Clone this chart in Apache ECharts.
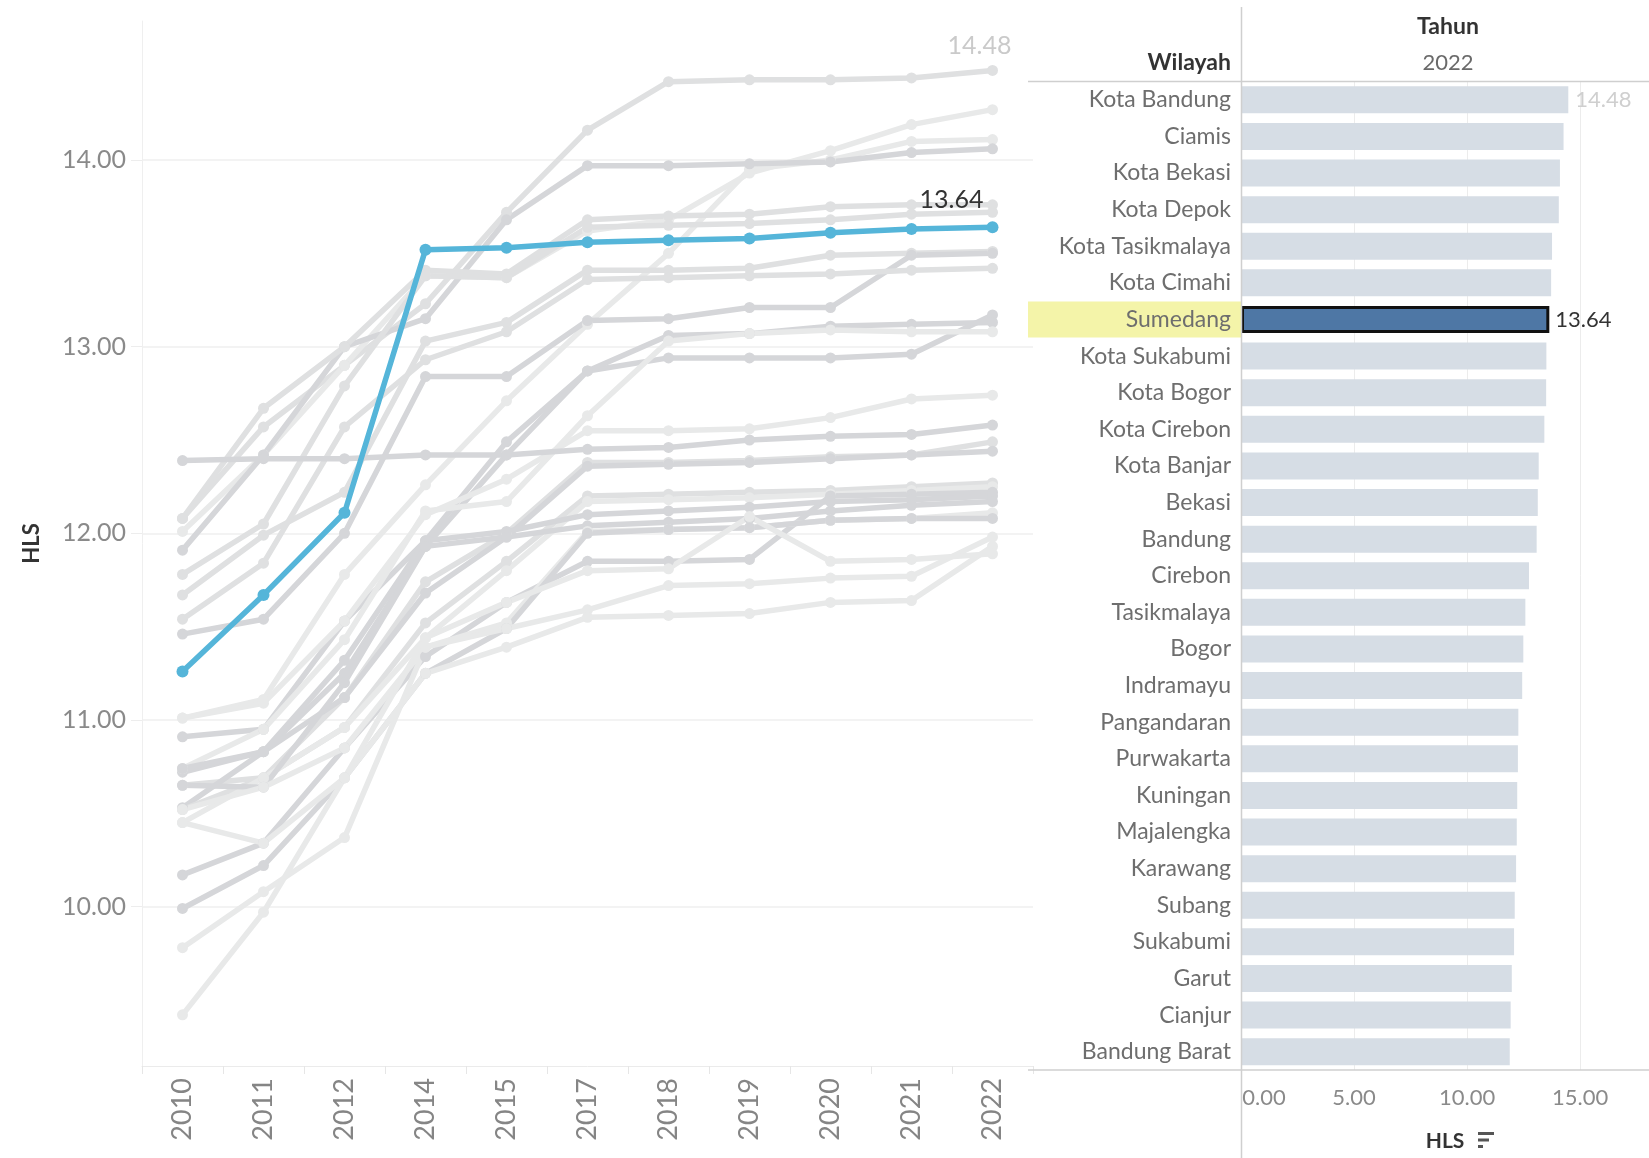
<!DOCTYPE html>
<html>
<head>
<meta charset="utf-8">
<script src="https://cdn.jsdelivr.net/npm/echarts@6/dist/echarts.min.js"></script>
<style>
  html, body { margin: 0; padding: 0; background: #fff; }
  #chart { width: 1649px; height: 1158px; }
</style>
</head>
<body>
<div id="chart"></div>
<script>
  // tahun (sumbu x grafik garis)
  const years = ['2010', '2011', '2012', '2014', '2015', '2017', '2018', '2019', '2020', '2021', '2022']

  // HLS per wilayah, urut sesuai tahun di atas
  const kotaBandung     = [12.08, 12.57, 12.90, 13.23, 13.72, 14.16, 14.42, 14.43, 14.43, 14.44, 14.48]
  const ciamis          = [12.01, 12.42, 12.90, 13.38, 13.37, 13.62, 13.68, 13.93, 14.05, 14.19, 14.27]
  const kotaBekasi      = [11.01, 11.11, 11.78, 12.26, 12.71, 13.12, 13.50, 13.95, 14.00, 14.10, 14.11]
  const kotaDepok       = [11.91, 12.42, 13.00, 13.15, 13.68, 13.97, 13.97, 13.98, 13.99, 14.04, 14.06]
  const kotaTasikmalaya = [12.08, 12.67, 13.00, 13.41, 13.39, 13.68, 13.70, 13.71, 13.75, 13.76, 13.76]
  const kotaCimahi      = [11.78, 12.05, 12.79, 13.38, 13.37, 13.64, 13.65, 13.66, 13.68, 13.71, 13.72]
  const sumedang        = [11.26, 11.67, 12.11, 13.52, 13.53, 13.56, 13.57, 13.58, 13.61, 13.63, 13.64]
  const kotaSukabumi    = [11.67, 11.99, 12.22, 13.03, 13.13, 13.41, 13.41, 13.42, 13.49, 13.50, 13.51]
  const kotaBogor       = [11.46, 11.54, 12.00, 12.84, 12.84, 13.14, 13.15, 13.21, 13.21, 13.49, 13.50]
  const kotaCirebon     = [11.54, 11.84, 12.57, 12.93, 13.08, 13.36, 13.37, 13.38, 13.39, 13.41, 13.42]
  const kotaBanjar      = [10.91, 10.95, 11.53, 11.96, 12.49, 12.87, 12.94, 12.94, 12.94, 12.96, 13.17]
  const bekasi          = [10.72, 10.83, 11.25, 11.93, 12.42, 12.87, 13.06, 13.07, 13.11, 13.12, 13.13]
  const bandung         = [10.74, 10.95, 11.43, 12.12, 12.17, 12.63, 13.03, 13.07, 13.09, 13.08, 13.08]
  const cirebon         = [11.01, 11.09, 11.53, 12.10, 12.29, 12.55, 12.55, 12.56, 12.62, 12.72, 12.74]
  const tasikmalaya     = [12.39, 12.40, 12.40, 12.42, 12.42, 12.45, 12.46, 12.50, 12.52, 12.53, 12.58]
  const bogor           = [10.65, 10.69, 11.12, 11.74, 12.00, 12.38, 12.38, 12.39, 12.41, 12.42, 12.49]
  const indramayu       = [10.53, 10.83, 11.12, 11.68, 11.98, 12.36, 12.37, 12.38, 12.40, 12.42, 12.44]
  const pangandaran     = [10.52, 10.69, 10.96, 11.52, 11.85, 12.20, 12.21, 12.22, 12.23, 12.25, 12.27]
  const purwakarta      = [10.45, 10.69, 10.96, 11.44, 11.80, 12.17, 12.18, 12.19, 12.21, 12.23, 12.25]
  const kuningan        = [10.17, 10.34, 10.85, 11.34, 11.63, 11.85, 11.85, 11.86, 12.20, 12.21, 12.22]
  const majalengka      = [10.74, 10.83, 11.32, 11.96, 12.01, 12.10, 12.12, 12.14, 12.17, 12.18, 12.20]
  const karawang        = [10.65, 10.64, 11.20, 11.93, 11.98, 12.04, 12.06, 12.08, 12.12, 12.15, 12.17]
  const subang          = [10.52, 10.64, 10.85, 11.39, 11.52, 12.01, 12.02, 12.03, 12.07, 12.08, 12.11]
  const sukabumi        = [ 9.99, 10.22, 10.69, 11.25, 11.49, 12.00, 12.02, 12.03, 12.07, 12.08, 12.08]
  const garut           = [ 9.78, 10.08, 10.37, 11.39, 11.49, 11.59, 11.72, 11.73, 11.76, 11.77, 11.98]
  const cianjur         = [10.45, 10.34, 10.69, 11.25, 11.39, 11.55, 11.56, 11.57, 11.63, 11.64, 11.93]
  const bandungBarat    = [ 9.42,  9.97, 10.69, 11.44, 11.63, 11.80, 11.81, 12.09, 11.85, 11.86, 11.89]

  // urutan wilayah (sama dengan urutan bar 2022)
  const wilayah = [
    ['Kota Bandung', kotaBandung], ['Ciamis', ciamis], ['Kota Bekasi', kotaBekasi],
    ['Kota Depok', kotaDepok], ['Kota Tasikmalaya', kotaTasikmalaya], ['Kota Cimahi', kotaCimahi],
    ['Sumedang', sumedang], ['Kota Sukabumi', kotaSukabumi], ['Kota Bogor', kotaBogor],
    ['Kota Cirebon', kotaCirebon], ['Kota Banjar', kotaBanjar], ['Bekasi', bekasi],
    ['Bandung', bandung], ['Cirebon', cirebon], ['Tasikmalaya', tasikmalaya],
    ['Bogor', bogor], ['Indramayu', indramayu], ['Pangandaran', pangandaran],
    ['Purwakarta', purwakarta], ['Kuningan', kuningan], ['Majalengka', majalengka],
    ['Karawang', karawang], ['Subang', subang], ['Sukabumi', sukabumi],
    ['Garut', garut], ['Cianjur', cianjur], ['Bandung Barat', bandungBarat]
  ]

  const selected = 'Sumedang'
  const font = 'Lato, "Open Sans", sans-serif'

  // warna abu-abu garis (sedikit beda tiap wilayah)
  const darker = ['Tasikmalaya', 'Kota Banjar', 'Kuningan', 'Majalengka', 'Karawang', 'Bekasi', 'Kota Bogor', 'Kota Depok', 'Indramayu', 'Sukabumi']
  const lighter = ['Cirebon', 'Bandung Barat', 'Garut', 'Cianjur', 'Ciamis', 'Kota Bekasi', 'Bandung', 'Purwakarta', 'Subang']
  function grayOf(name){
    if (darker.includes(name)) return '#d5d6d9'
    if (lighter.includes(name)) return '#e8e9e9'
    return '#dfe0e1'
  }

  const chart = echarts.init(document.getElementById('chart'))

  const lineSeries = wilayah.map(([name, vals]) => {
    const isSel = name === selected
    const data = vals.map(v => v)
    const last = data.length - 1
    if (name === selected) {
      data[last] = { value: vals[last], label: { show: true, position: 'top', distance: 9, offset: [-41, 0],
        color: '#333', fontSize: 25, fontFamily: font, formatter: p => p.value.toFixed(2) } }
    }
    if (name === wilayah[0][0]) {
      data[last] = { value: vals[last], label: { show: true, position: 'top', distance: 7, offset: [-13, 0],
        color: '#cacaca', fontSize: 25, fontFamily: font, formatter: p => p.value.toFixed(2) } }
    }
    return {
      type: 'line',
      name: name,
      xAxisIndex: 0,
      yAxisIndex: 0,
      data: data,
      symbol: 'circle',
      symbolSize: isSel ? 12 : 11,
      lineStyle: { width: 5.5, color: isSel ? '#55b5d9' : grayOf(name) },
      itemStyle: { color: isSel ? '#55b5d9' : grayOf(name) },
      z: isSel ? 10 : 2,
      silent: true
    }
  })

  const barData = wilayah.map(([name, vals], i) => {
    const v = vals[vals.length - 1]
    const item = { value: v, itemStyle: { color: '#d6dde5' } }
    if (name === selected) {
      item.itemStyle = { color: '#4e77a5', borderColor: '#111', borderWidth: 3 }
      item.label = { show: true, position: 'right', distance: 6, color: '#333', fontSize: 22, fontFamily: font,
        formatter: p => p.value.toFixed(2) }
    }
    if (i === 0) {
      item.label = { show: true, position: 'right', distance: 7, color: '#cfcfcf', fontSize: 22, fontFamily: font,
        formatter: p => p.value.toFixed(2) }
    }
    return item
  })

  chart.setOption({
    animation: false,
    backgroundColor: '#fff',
    textStyle: { fontFamily: font },
    grid: [
      { left: 142, right: 616, top: 21, bottom: 92 },
      { left: 1241, right: 0, top: 81.5, bottom: 88 }
    ],
    xAxis: [
      {
        type: 'category',
        gridIndex: 0,
        data: years,
        boundaryGap: true,
        axisLine: { lineStyle: { color: '#ebebeb', width: 1 } },
        axisTick: { show: true, length: 8, lineStyle: { color: '#e6e6e6' } },
        axisLabel: { rotate: 90, fontSize: 27, color: '#858585', margin: 12, fontFamily: font },
        splitLine: { show: false }
      },
      {
        type: 'value',
        gridIndex: 1,
        min: 0,
        max: 18.05,
        interval: 5,
        axisLine: { show: false },
        axisTick: { show: false },
        splitLine: { show: true, showMinLine: false, showMaxLine: false, lineStyle: { color: '#ececec' } },
        axisLabel: {
          fontSize: 22, color: '#8a8a8a', margin: 17, fontFamily: font, showMaxLabel: false,
          formatter: v => v === 0 ? '{a|0.00}' : v.toFixed(2),
          rich: { a: { fontSize: 22, color: '#8a8a8a', fontFamily: font, padding: [0, 0, 0, 46] } }
        },
        name: 'HLS',
        nameLocation: 'middle',
        nameGap: 61,
        nameTextStyle: { fontSize: 21, fontWeight: 'bold', color: '#333', fontFamily: font }
      }
    ],
    yAxis: [
      {
        type: 'value',
        gridIndex: 0,
        min: 9.146,
        max: 14.745,
        axisLine: { show: true, lineStyle: { color: '#efefef' } },
        axisTick: { show: true, length: 11, lineStyle: { color: '#ededed' } },
        splitLine: { show: true, showMinLine: false, showMaxLine: false, lineStyle: { color: '#efefef', width: 1.5 } },
        axisLabel: { fontSize: 25, color: '#8a8a8a', margin: 16, fontFamily: font,
          showMinLabel: false, showMaxLabel: false, formatter: v => v.toFixed(2) },
        name: 'HLS',
        nameLocation: 'middle',
        nameRotate: 90,
        nameGap: 99,
        nameTextStyle: { fontSize: 22, fontWeight: 'bold', color: '#333', fontFamily: font }
      },
      {
        type: 'category',
        gridIndex: 1,
        inverse: true,
        data: wilayah.map(w => w[0]),
        axisLine: { show: false },
        axisTick: { show: false },
        axisLabel: {
          margin: 0,
          interval: 0,
          formatter: v => v === selected ? '{hl|' + v + '}' : '{n|' + v + '}',
          rich: {
            n: { fontSize: 23, color: '#6e6e6e', fontFamily: font, padding: [0, 10, 0, 0] },
            hl: { fontSize: 23, color: '#6e6e6e', fontFamily: font, backgroundColor: '#f4f4a9',
              width: 203, height: 36, lineHeight: 36, align: 'right', padding: [0, 10, 0, 0] }
          }
        }
      }
    ],
    series: [
      ...lineSeries.filter(s => s.name !== selected),
      ...lineSeries.filter(s => s.name === selected),
      {
        type: 'bar',
        xAxisIndex: 1,
        yAxisIndex: 1,
        data: barData,
        barWidth: 27,
        silent: true,
        z: 3
      }
    ],
    graphic: [
      { type: 'line', shape: { x1: 1241.5, y1: 7, x2: 1241.5, y2: 1158 }, style: { stroke: '#cfcfcf', lineWidth: 1.5 }, z: 20 },
      { type: 'line', shape: { x1: 1028, y1: 81.5, x2: 1649, y2: 81.5 }, style: { stroke: '#cfcfcf', lineWidth: 1.5 }, z: 20 },
      { type: 'line', shape: { x1: 1028, y1: 1070, x2: 1649, y2: 1070 }, style: { stroke: '#cfcfcf', lineWidth: 1.5 }, z: 20 },
      { type: 'text', x: 1448, y: 27, style: { text: 'Tahun', align: 'center', verticalAlign: 'middle', fontSize: 23, fontWeight: 'bold', fill: '#333', fontFamily: font }, z: 20 },
      { type: 'text', x: 1448, y: 63, style: { text: '2022', align: 'center', verticalAlign: 'middle', fontSize: 22, fill: '#6a6a6a', fontFamily: font }, z: 20 },
      { type: 'text', x: 1231, y: 63, style: { text: 'Wilayah', align: 'right', verticalAlign: 'middle', fontSize: 23, fontWeight: 'bold', fill: '#333', fontFamily: font }, z: 20 },
      // ikon sort di samping label HLS
      { type: 'rect', shape: { x: 1478, y: 1132, width: 16, height: 3 }, style: { fill: '#555' }, z: 20 },
      { type: 'rect', shape: { x: 1478, y: 1138.5, width: 11, height: 3 }, style: { fill: '#555' }, z: 20 },
      { type: 'rect', shape: { x: 1478, y: 1145, width: 5, height: 3 }, style: { fill: '#555' }, z: 20 }
    ]
  })
</script>
</body>
</html>
